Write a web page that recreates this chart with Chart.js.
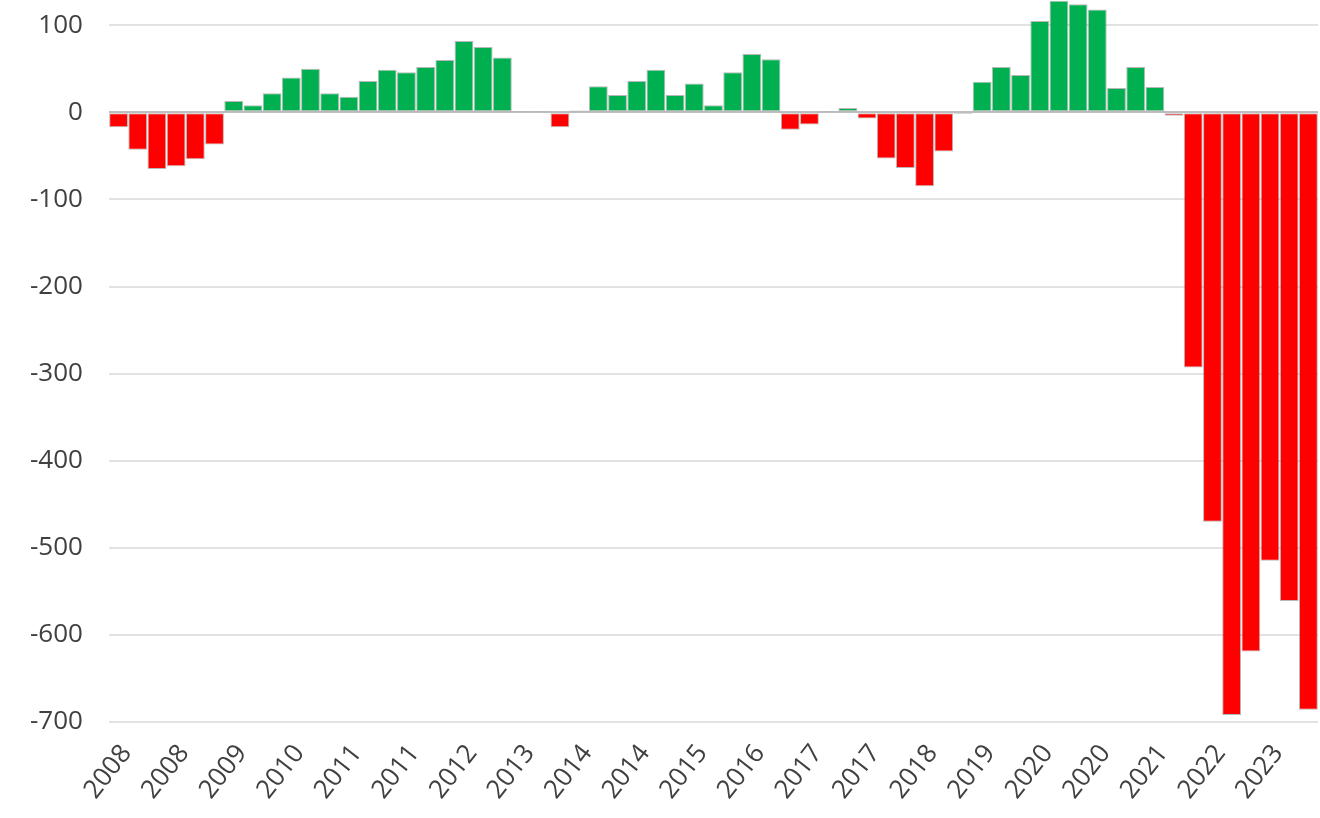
<!DOCTYPE html>
<html>
<head>
<meta charset="utf-8">
<title>Quarterly balance</title>
<script src="https://cdn.jsdelivr.net/npm/chart.js@4"></script>
<style>
  html, body { margin: 0; padding: 0; background: #fff; }
  #wrap { width: 1320px; height: 818px; position: relative; }
</style>
</head>
<body>
<div id="wrap"><canvas id="balanceChart"></canvas></div>
<script>
/* ---------- data ---------- */

const quarters = [
  "2008 Q1", "2008 Q2", "2008 Q3", "2008 Q4",
  "2009 Q1", "2009 Q2", "2009 Q3", "2009 Q4",
  "2010 Q1", "2010 Q2", "2010 Q3", "2010 Q4",
  "2011 Q1", "2011 Q2", "2011 Q3", "2011 Q4",
  "2012 Q1", "2012 Q2", "2012 Q3", "2012 Q4",
  "2013 Q1", "2013 Q2", "2013 Q3", "2013 Q4",
  "2014 Q1", "2014 Q2", "2014 Q3", "2014 Q4",
  "2015 Q1", "2015 Q2", "2015 Q3", "2015 Q4",
  "2016 Q1", "2016 Q2", "2016 Q3", "2016 Q4",
  "2017 Q1", "2017 Q2", "2017 Q3", "2017 Q4",
  "2018 Q1", "2018 Q2", "2018 Q3", "2018 Q4",
  "2019 Q1", "2019 Q2", "2019 Q3", "2019 Q4",
  "2020 Q1", "2020 Q2", "2020 Q3", "2020 Q4",
  "2021 Q1", "2021 Q2", "2021 Q3", "2021 Q4",
  "2022 Q1", "2022 Q2", "2022 Q3", "2022 Q4",
  "2023 Q1", "2023 Q2", "2023 Q3"
];

const values = [
  -17, -43, -65, -62,
  -54, -37, 13, 8,
  22, 40, 50, 22,
  18, 36, 49, 46,
  52, 60, 82, 75,
  63, 1, 1, -17,
  2, 30, 20, 36,
  49, 20, 33, 8,
  46, 67, 61, -20,
  -14, 1, 5, -7,
  -53, -64, -85, -45,
  -2, 35, 52, 43,
  105, 128, 124, 118,
  28, 52, 29, -4,
  -293, -470, -692, -619,
  -515, -561, -686
];

// a year label under every third quarter, as in the original
const labelEvery = 3;
const yTicks = [-700, -600, -500, -400, -300, -200, -100, 0, 100];

const GREEN = "#00b050";
const RED = "#ff0000";
const FONT = "'Open Sans', Lato, sans-serif";

/* ---------- chart ---------- */

new Chart(document.getElementById("balanceChart"), {
  type: "bar",
  data: {
    labels: quarters,
    datasets: [{
      data: values,
      backgroundColor: values.map(v => v >= 0 ? GREEN : RED),
      borderColor: "rgba(125,125,125,0.55)",
      borderWidth: 1,
      borderSkipped: false,
      barPercentage: 0.98,
      categoryPercentage: 1
    }]
  },
  options: {
    responsive: true,
    maintainAspectRatio: false,
    animation: false,
    layout: { padding: { left: 4, right: 2, top: 0, bottom: 4 } },
    plugins: {
      legend: { display: false },
      tooltip: { enabled: false }
    },
    scales: {
      x: {
        grid: { display: false },
        border: { display: false },
        afterFit: axis => {
          // last category has no label, so the plot may run to the right edge
          axis.paddingRight = 0;
        },
        ticks: {
          autoSkip: false,
          minRotation: 52,
          maxRotation: 52,
          padding: 9,
          labelOffset: 8,
          color: "#404040",
          font: { family: FONT, size: 26 },
          callback: (val, i) => i % labelEvery === 0 ? quarters[i].slice(0, 4) : ""
        }
      },
      y: {
        min: -700,
        max: 129,
        afterBuildTicks: axis => {
          axis.ticks = yTicks.map(v => ({ value: v }));
        },
        afterFit: axis => {
          // the top bar runs off the picture, so no room is kept above it
          axis.paddingTop = 0;
        },
        grid: {
          color: ctx => ctx.tick && ctx.tick.value === 0 ? "#bdbdbd" : "#e2e2e2",
          lineWidth: 2,
          drawTicks: false
        },
        border: { display: false },
        ticks: {
          padding: 26,
          color: "#404040",
          font: { family: FONT, size: 26 }
        }
      }
    }
  }
});
</script>
</body>
</html>
